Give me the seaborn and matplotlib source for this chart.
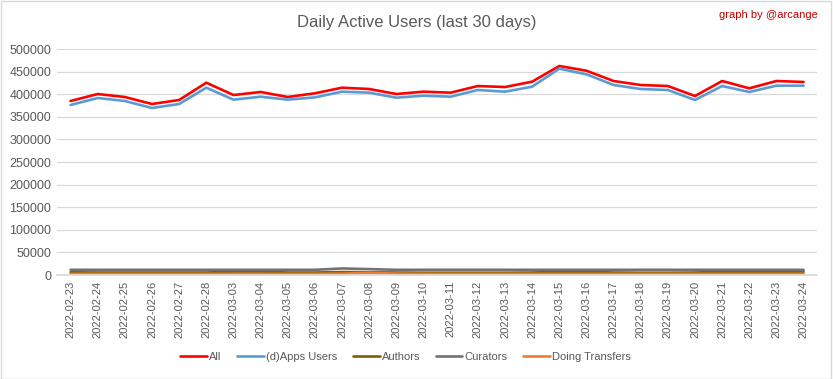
import matplotlib
matplotlib.use("Agg")
import matplotlib.pyplot as plt
import seaborn as sns
import pandas as pd
from matplotlib.patches import Rectangle

dates = ["2022-02-23", "2022-02-24", "2022-02-25", "2022-02-26", "2022-02-27", "2022-02-28",
         "2022-03-03", "2022-03-04", "2022-03-05", "2022-03-06", "2022-03-07", "2022-03-08",
         "2022-03-09", "2022-03-10", "2022-03-11", "2022-03-12", "2022-03-13", "2022-03-14",
         "2022-03-15", "2022-03-16", "2022-03-17", "2022-03-18", "2022-03-19", "2022-03-20",
         "2022-03-21", "2022-03-22", "2022-03-23", "2022-03-24"]

all_users = [385000, 400400, 393800, 378300, 387200, 425500, 398200, 404900, 393800, 402000,
             414400, 411500, 400400, 405600, 403400, 418100, 415900, 427700, 462400, 452000,
             429200, 420400, 418100, 396000, 429200, 413000, 429200, 427000]
dapps_users = [376100, 391600, 385000, 369500, 378300, 414400, 387900, 394500, 387900, 393000,
               405600, 403400, 392300, 396700, 394500, 409300, 405600, 416600, 456500, 444000,
               420400, 411500, 409300, 387200, 418100, 404900, 418900, 418900]
authors = [6000, 5500, 5500, 5500, 5500, 5500, 7500, 7500, 5500, 5500, 6500, 6000,
           5500, 5000, 5000, 5000, 5000, 5500, 7000, 7000, 5500, 5000, 5000, 5500,
           7000, 7000, 7000, 7000]
curators = [11500, 11500, 11500, 11500, 11500, 11500, 11500, 11500, 11500, 11500, 14500, 13000,
            11500, 11500, 11500, 11500, 11500, 11500, 11500, 11500, 11500, 11500, 11500, 11500,
            11500, 11500, 11500, 11500]
transfers = [2500, 2500, 2500, 2500, 2500, 2500, 2500, 2500, 2500, 2500, 3000, 5000,
             3000, 2500, 2500, 2500, 2500, 2500, 2500, 2500, 2500, 2500, 2500, 2500,
             2500, 2500, 2500, 2500]

series_names = ["All", "(d)Apps Users", "Authors", "Curators", "Doing Transfers"]
colors = ["#FF0000", "#5B9BD5", "#7F6000", "#767171", "#ED7D31"]

df = pd.concat([
    pd.DataFrame({"date": dates, "value": vals, "series": name})
    for name, vals in zip(series_names, [all_users, dapps_users, authors, curators, transfers])
], ignore_index=True)

sns.set_theme(style="white")
plt.rcParams["font.family"] = ["Liberation Sans", "DejaVu Sans"]

fig = plt.figure(figsize=(8.33, 3.79), dpi=100)
ax = fig.add_axes([0.0684, 0.2744, 0.9126, 0.5963])

sns.lineplot(data=df, x="date", y="value", hue="series", hue_order=series_names,
             palette=colors, linewidth=1.9, sort=False, ax=ax, legend=True)

ax.set_xlim(-0.5, len(dates) - 0.5)
ax.set_ylim(0, 500000)
ax.set_yticks(range(0, 500001, 50000))
ax.yaxis.grid(True, color="#D9D9D9", linewidth=0.9)
ax.set_axisbelow(True)
for s in ["top", "right", "left"]:
    ax.spines[s].set_visible(False)
ax.spines["bottom"].set_color("#D9D9D9")
ax.set_xlabel("")
ax.set_ylabel("")
ax.tick_params(axis="x", labelrotation=90, labelsize=8, colors="#595959", length=0, pad=4)
ax.tick_params(axis="y", labelsize=9, colors="#595959", length=0, pad=4)

handles, labels = ax.get_legend_handles_labels()
ax.get_legend().remove()
leg = fig.legend(handles, labels, loc="center", bbox_to_anchor=(0.487, 0.058), ncol=5,
                 frameon=False, fontsize=8, handlelength=2.4, handletextpad=0.2,
                 columnspacing=1.4)
for t in leg.get_texts():
    t.set_color("#595959")

fig.text(0.5, 0.94, "Daily Active Users (last 30 days)", ha="center", va="center",
         fontsize=12, color="#595959")
fig.text(0.982, 0.96, "graph by @arcange", ha="right", va="center", fontsize=8, color="#C00000")

fig.patches.append(Rectangle((0.001, 0.001), 0.997, 0.996, transform=fig.transFigure,
                             fill=False, edgecolor="#D9D9D9", linewidth=1))

fig.savefig("out.png", dpi=100, facecolor="white")
